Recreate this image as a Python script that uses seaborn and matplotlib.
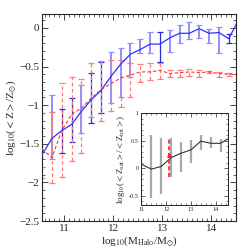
import numpy as np
import pandas as pd
import seaborn as sns
import matplotlib
matplotlib.use("Agg")
import matplotlib.pyplot as plt
from matplotlib.ticker import MultipleLocator

# main panel: halo mass bins
mass = [10.55, 10.75, 10.95, 11.15, 11.35, 11.55, 11.75, 11.95, 12.15, 12.35, 12.55,
        12.75, 12.95, 13.15, 13.35, 13.55, 13.75, 13.95, 14.15, 14.35, 14.55]

z_blue = [-1.64, -1.43, -1.33, -1.25, -1.08, -0.93, -0.81, -0.63, -0.47, -0.34, -0.28,
          -0.21, -0.21, -0.13, -0.07, -0.07, -0.01, -0.07, -0.06, -0.14, 0.10]
blue_hi = [-1.10, -0.87, -1.05, -0.91, -0.74, -0.59, -0.44, -0.31, -0.26, -0.19, -0.15,
           -0.05, -0.06, -0.03, 0.04, 0.07, 0.04, -0.02, 0.01, -0.08, 0.20]
blue_lo = [-1.80, -1.70, -1.62, -1.48, -1.36, -1.23, -1.10, -0.97, -0.90, -0.63, -0.33,
           -0.33, -0.44, -0.31, -0.20, -0.15, -0.13, -0.19, -0.33, -0.20, 0.00]

z_red = [-1.57, -1.68, -1.33, -1.12, -1.04, -0.91, -0.80, -0.72, -0.65, -0.61, -0.57,
         -0.57, -0.55, -0.59, -0.58, -0.57, -0.58, -0.57, -0.59, -0.60, -0.60]
red_hi = [-1.10, -1.09, -0.71, -0.64, -0.66, -0.45, -0.43, -0.41, -0.41, -0.46, -0.47,
          -0.46, -0.46, -0.55, -0.54, -0.53, -0.55, -0.56, -0.57, -0.58, -0.59]
red_lo = [-1.94, -2.01, -1.93, -1.72, -1.62, -1.15, -1.20, -1.08, -1.02, -0.90, -0.70,
          -0.68, -0.66, -0.64, -0.63, -0.62, -0.64, -0.58, -0.63, -0.62, -0.61]

# inset: satellite / total ratio
mass_in = [11.0, 11.4, 11.8, 12.2, 12.6, 13.0, 13.4, 13.8, 14.2, 14.6]
ratio = [0.07, -0.02, 0.03, 0.19, 0.27, 0.33, 0.49, 0.45, 0.45, 0.56]
ratio_hi = [np.nan, 0.60, 0.54, 0.54, 0.48, 0.51, 0.60, 0.57, 0.52, np.nan]
ratio_lo = [np.nan, -0.55, -0.48, -0.16, -0.07, 0.10, 0.33, 0.36, 0.30, np.nan]
obs_mass = [12.1]
obs_ratio = [0.24]
obs_hi = [0.54]
obs_lo = [-0.16]

sns.set_style("ticks")
plt.rcParams['font.family'] = ['Liberation Serif', 'DejaVu Serif']
plt.rcParams['mathtext.fontset'] = 'stix'
plt.rcParams['xtick.direction'] = 'in'
plt.rcParams['ytick.direction'] = 'in'

df = pd.DataFrame({"mass": mass, "blue": z_blue, "red": z_red})
df_in = pd.DataFrame({"mass": mass_in, "ratio": ratio})

fig = plt.figure(figsize=(2.49, 2.49), dpi=100)
ax = fig.add_axes([0.169, 0.112, 0.779, 0.832])

zb = np.array(z_blue)
zr = np.array(z_red)
dark = [2, 3, 5, 6, 12, 19]
light = [i for i in range(len(mass)) if i not in dark]
for idx, col, lw in [(light, '#9090ff', 1.4), (dark, '#2a2ae6', 0.9)]:
    xs = np.array(mass)[idx]
    ys = zb[idx]
    err = [ys - np.array(blue_lo)[idx], np.array(blue_hi)[idx] - ys]
    ax.errorbar(xs, ys, yerr=err, fmt='none', ecolor=col, elinewidth=lw,
                capsize=2.2, capthick=0.9, zorder=2)

eb = ax.errorbar(mass, zr, yerr=[zr - np.array(red_lo), np.array(red_hi) - zr], fmt='none',
                 ecolor='#ff7a7a', elinewidth=0.9, capsize=2.2, capthick=0.9, zorder=2)
eb[2][0].set_linestyle((0, (3, 2)))

sns.lineplot(data=df, x="mass", y="blue", ax=ax, color='#3030ff', lw=0.9, zorder=3)
sns.lineplot(data=df, x="mass", y="red", ax=ax, color='#ff3030', lw=0.8,
             linestyle=(0, (3, 2)), zorder=3)

ax.set_xlim(10.55, 14.5)
ax.set_ylim(-2.5, 0.18)
ax.set_xticks([11, 12, 13, 14])
ax.set_yticks([0, -0.5, -1, -1.5, -2, -2.5])
ax.set_yticklabels(['0', '\u22120.5', '\u22121', '\u22121.5', '\u22122', '\u22122.5'])
ax.xaxis.set_minor_locator(MultipleLocator(0.1))
ax.yaxis.set_minor_locator(MultipleLocator(0.1))
ax.tick_params(which='both', top=True, right=True, labelsize=8, pad=2)
ax.tick_params(which='major', length=4, width=0.6)
ax.tick_params(which='minor', length=2, width=0.5)
for s in ax.spines.values():
    s.set_linewidth(0.8)
ax.set_xlabel(r'log$_{10}$(M$_{\rm Halo}$/M$_{\odot}$)', fontsize=8, labelpad=1)
ax.set_ylabel(r'log$_{10}$($<$Z$>$/Z$_{\odot}$)', fontsize=8, labelpad=1)

# inset
ins = fig.add_axes([0.566, 0.177, 0.350, 0.369])
ins.set_facecolor('white')
r = np.array(ratio)
ins.errorbar(mass_in, r, yerr=[r - np.array(ratio_lo), np.array(ratio_hi) - r], fmt='none',
             ecolor='#a8a8a8', elinewidth=1.6, capsize=0, zorder=2)
sns.lineplot(data=df_in, x="mass", y="ratio", ax=ins, color='#333333', lw=0.8, zorder=3)
ob = ins.errorbar(obs_mass, obs_ratio,
                  yerr=[[obs_ratio[0] - obs_lo[0]], [obs_hi[0] - obs_ratio[0]]],
                  fmt='^', color='#ff2020', ms=2.5, ecolor='#ff2020', elinewidth=1.2,
                  capsize=0, zorder=4)
ob[2][0].set_linestyle((0, (2.5, 1.5)))
ins.set_xlim(10.98, 14.5)
ins.set_ylim(-0.67, 1.0)
ins.set_xticks([11, 12, 13, 14])
ins.set_yticks([-0.5, 0, 0.5, 1])
ins.set_yticklabels(['-0.5', '0', '0.5', '1'])
ins.xaxis.set_minor_locator(MultipleLocator(0.2))
ins.yaxis.set_minor_locator(MultipleLocator(0.1))
ins.tick_params(which='both', top=True, right=True, labelsize=4.5, pad=1.5)
ins.tick_params(which='major', length=3, width=0.5)
ins.tick_params(which='minor', length=1.5, width=0.4)
for s in ins.spines.values():
    s.set_linewidth(0.7)
ins.set_xlabel('')
ins.set_ylabel(r'log$_{10}$($<$Z$_{\rm sat}$$>$/$<$Z$_{\rm tot}$$>$)', fontsize=6.5, labelpad=1)

fig.savefig('out.png', dpi=100)
